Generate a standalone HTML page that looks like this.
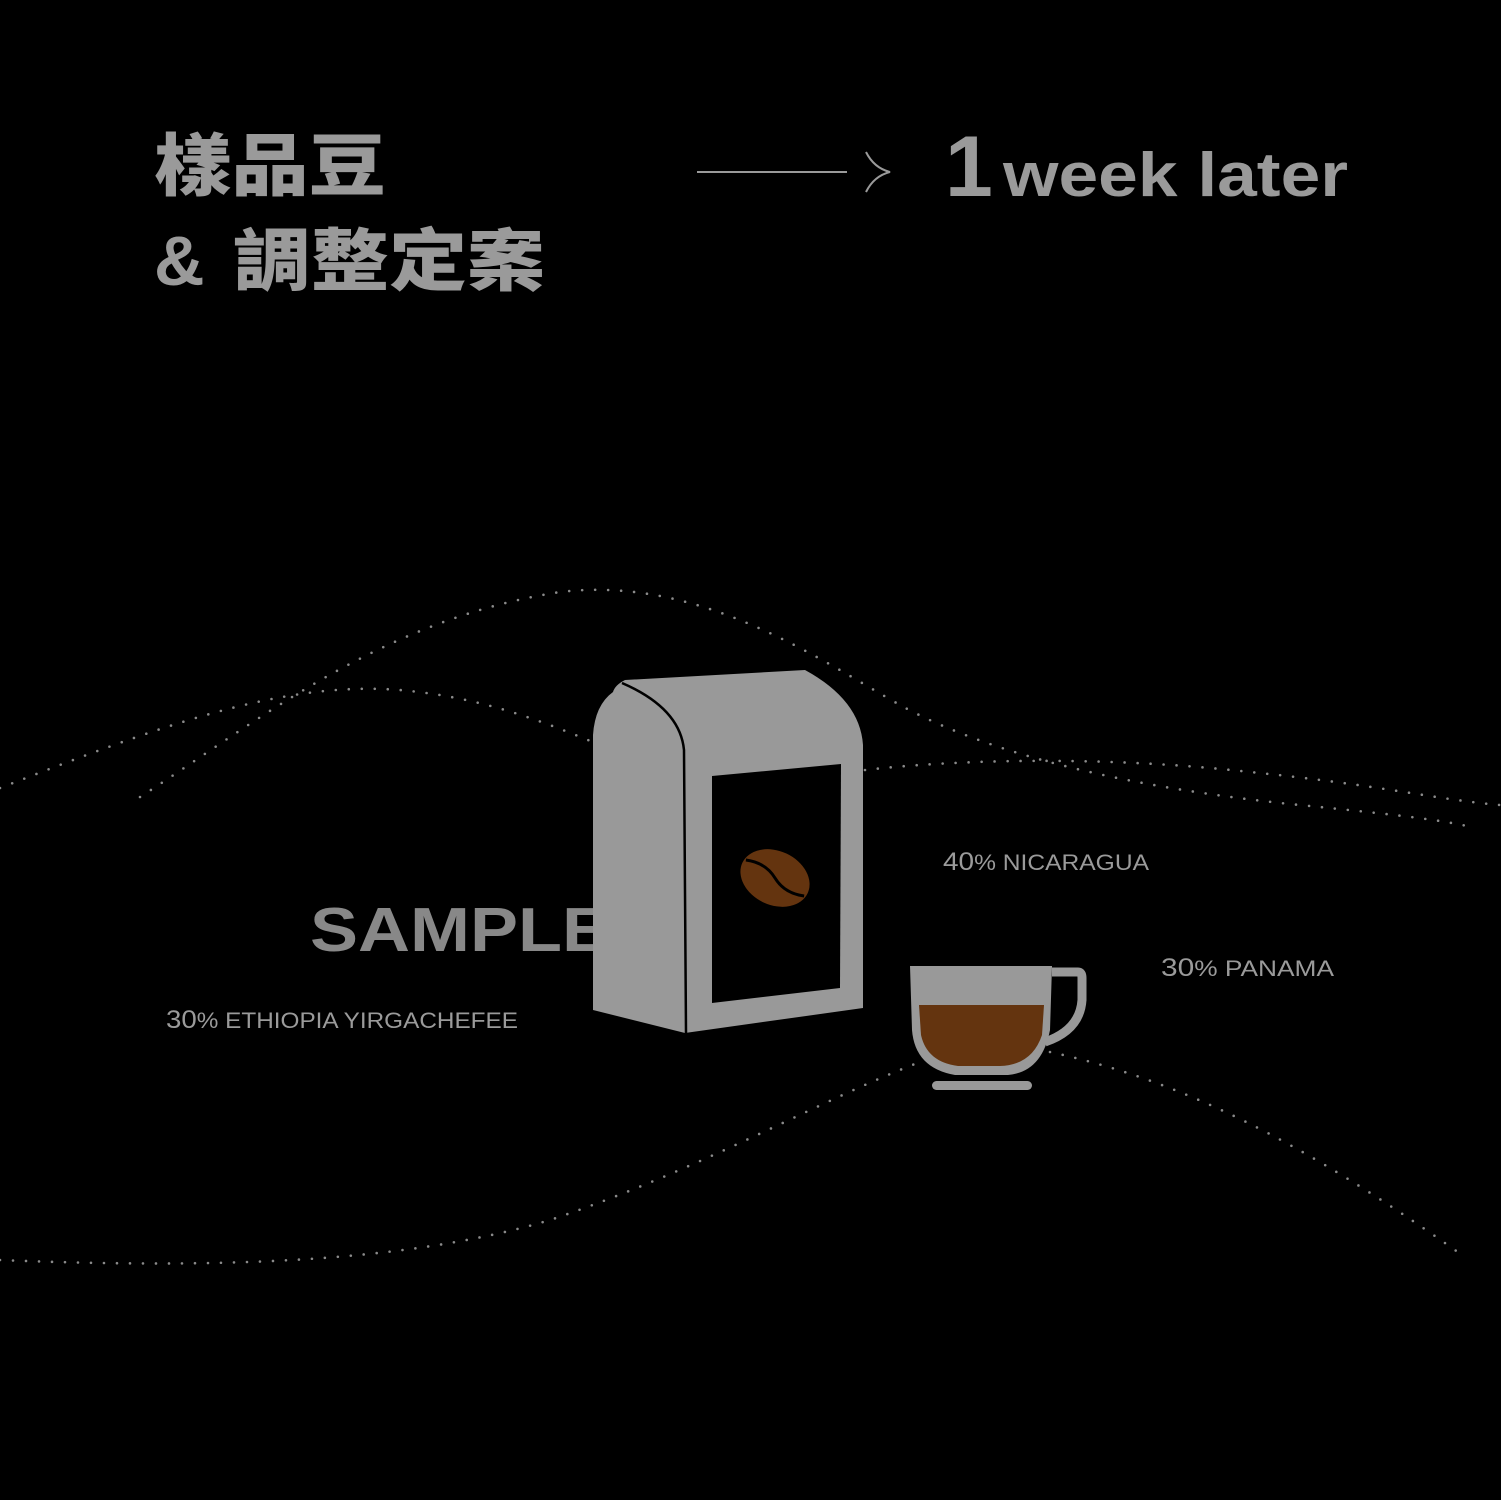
<!DOCTYPE html>
<html><head><meta charset="utf-8"><style>
html,body{margin:0;padding:0;background:#000;}
svg{display:block}
</style></head><body>
<svg width="1501" height="1500" viewBox="0 0 1501 1500" xmlns="http://www.w3.org/2000/svg">
<rect width="1501" height="1500" fill="#000"/>
<g fill="none" stroke="#8a8a8a" stroke-width="2.6" stroke-linecap="round" stroke-dasharray="0 13">
<path d="M0,788 C150,730 280,680 400,690 C480,697 540,720 600,745"/>
<path d="M865,770 C950,760 1100,755 1250,772 C1380,785 1440,800 1500,805"/>
<path d="M140,797 C260,720 380,620 560,592 C700,575 820,660 900,705 C1000,760 1150,790 1300,805 C1400,815 1440,820 1467,826"/>
<path d="M0,1260 C200,1268 400,1265 550,1220 C700,1170 820,1100 920,1062"/>
<path d="M1050,1052 C1180,1080 1300,1140 1462,1255"/>
</g>
<g font-family="'Liberation Sans','Noto Sans CJK TC',sans-serif" fill="#9a9a9a" font-weight="bold">
<text x="154" y="190" font-size="68" font-family="'Noto Sans CJK TC',sans-serif" font-weight="900" textLength="232" lengthAdjust="spacingAndGlyphs">樣品豆</text>
<text x="154" y="285" font-size="70" font-weight="900">&amp;</text>
<text x="233" y="285" font-size="68" font-family="'Noto Sans CJK TC',sans-serif" font-weight="900" textLength="312" lengthAdjust="spacingAndGlyphs">調整定案</text>
<text x="945" y="196" font-size="86">1</text>
<text x="1003" y="196" font-size="62" textLength="345" lengthAdjust="spacingAndGlyphs">week later</text>
<text x="310" y="951" font-size="62" fill="#888" textLength="300" lengthAdjust="spacingAndGlyphs">SAMPLE</text>
</g>
<line x1="697" y1="172" x2="847" y2="172" stroke="#9a9a9a" stroke-width="2"/>
<path d="M866,152 Q874,168 890,172 Q874,176 866,192" fill="none" stroke="#9a9a9a" stroke-width="2"/>
<g font-family="'Liberation Sans',sans-serif" fill="#9a9a9a" font-size="22">
<text x="943" y="870" textLength="206" lengthAdjust="spacingAndGlyphs"><tspan font-size="25">40</tspan>% NICARAGUA</text>
<text x="1161" y="976" textLength="173" lengthAdjust="spacingAndGlyphs"><tspan font-size="25">30</tspan>%  PANAMA</text>
<text x="166" y="1028" textLength="352" lengthAdjust="spacingAndGlyphs"><tspan font-size="25">30</tspan>%  ETHIOPIA YIRGACHEFEE</text>
</g>
<path d="M593,1010 L685,1033 L863,1008 L863,745 Q860,700 805,670 L625,680 Q615,685 613,692 Q595,705 593,735 Z" fill="#999"/>
<path d="M622,683 Q680,708 684,750 L686,1033" fill="none" stroke="#000" stroke-width="2.5"/>
<path d="M712,776 L841,764 L840,988 L712,1003 Z" fill="#000"/>
<g transform="translate(775,878) rotate(25)">
<ellipse rx="36" ry="27" fill="#64340f"/>
<path d="M-34,-4 Q-15,-10 0,0 Q15,10 34,4" fill="none" stroke="#000" stroke-width="3"/>
</g>
<path d="M1052,972 L1078,972 Q1082,972 1082,978 L1082,1000 Q1080,1030 1045,1042" fill="none" stroke="#999" stroke-width="9"/>
<path d="M910,966 L1052,966 L1050,1030 Q1042,1072 1008,1075 L955,1075 Q915,1068 912,1030 Z" fill="#999"/>
<path d="M919,1005 L1044,1005 L1042,1035 Q1032,1065 1000,1066 L958,1066 Q927,1062 921,1035 Z" fill="#64340f"/>
<rect x="932" y="1081" width="100" height="9" rx="4.5" fill="#999"/>
</svg>
</body></html>
